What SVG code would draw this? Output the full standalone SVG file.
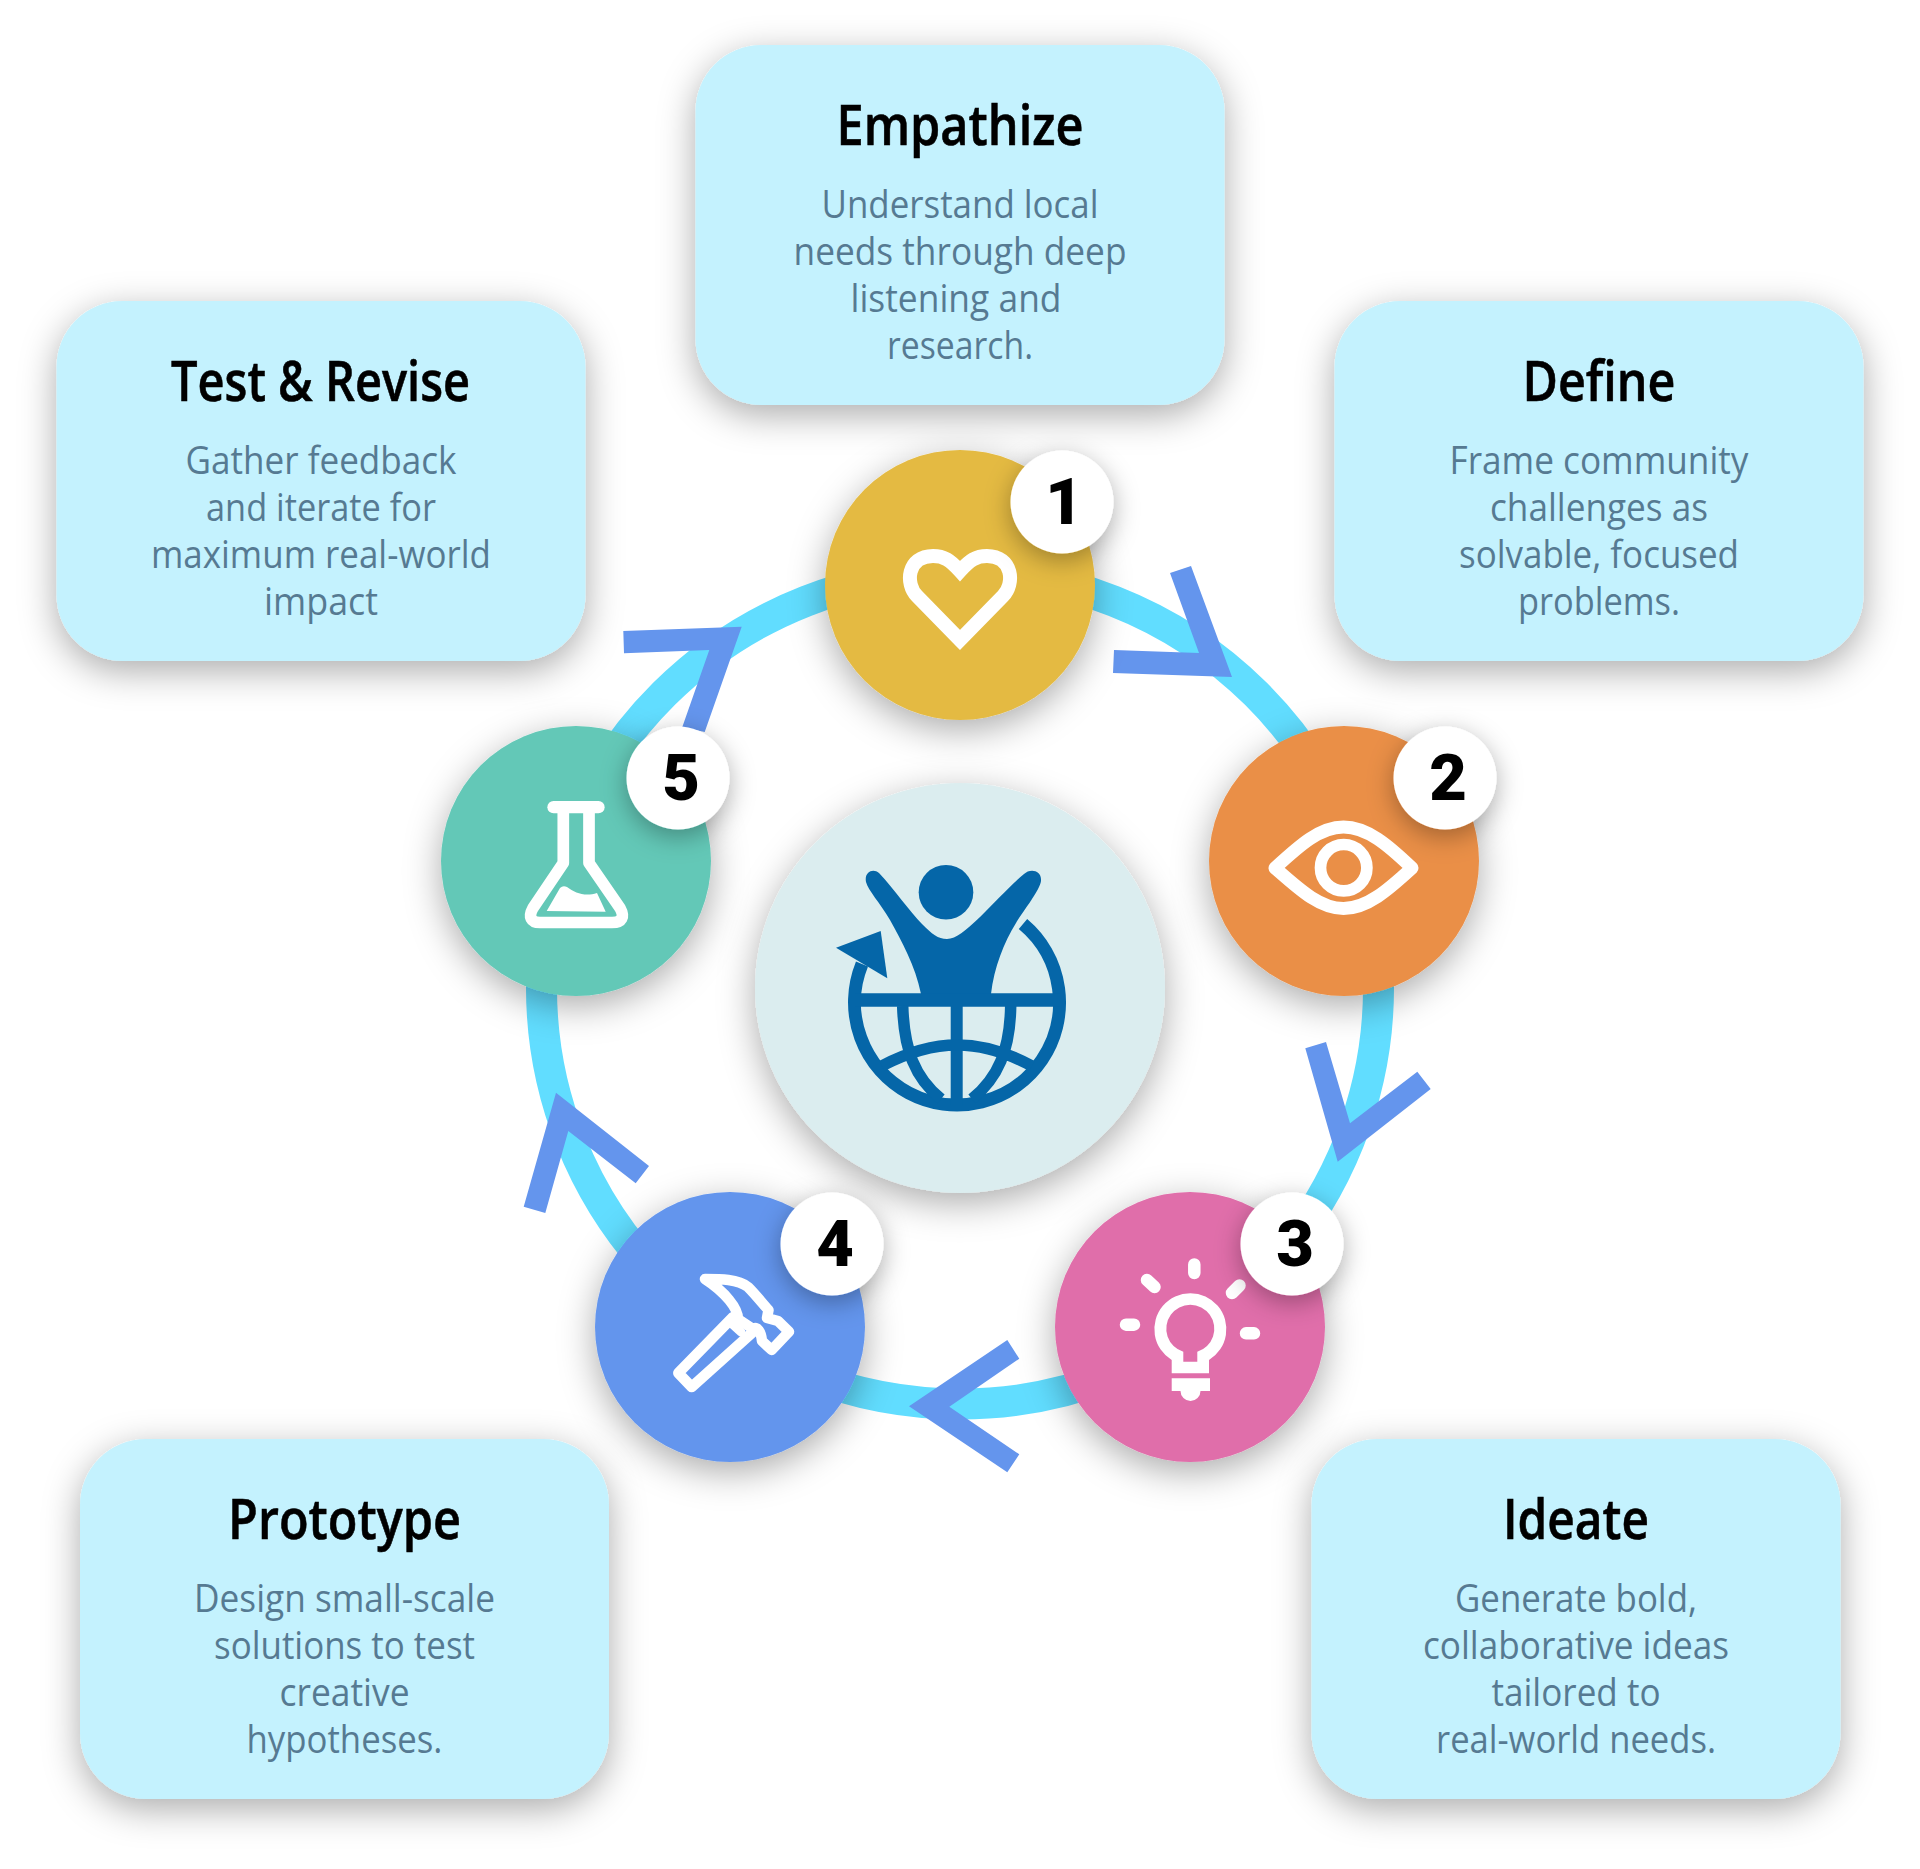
<svg xmlns="http://www.w3.org/2000/svg" width="1920" height="1869" viewBox="0 0 1920 1869">
<style>
text{font-family:"Open Sans","Noto Sans","Liberation Sans",sans-serif;text-anchor:middle}
.title{font-size:56px;font-weight:600;fill:#000;stroke:#000;stroke-width:.6px}
.body{font-size:38.500px;font-weight:400;fill:#567a92}
.num{font-family:Roboto,"Liberation Sans",sans-serif;font-size:65px;font-weight:900;fill:#000}
.card{fill:#c4f2fe;filter:url(#sh)}
.dot{filter:url(#sh)}
.badge{fill:#fff;filter:url(#sh2)}
.ic{fill:none;stroke:#fff;stroke-linejoin:round;stroke-linecap:round}
.arr{fill:#6495ed}
.gl{fill:none;stroke:#0566a8}
</style>
<defs>
<filter id="sh" x="-30%" y="-30%" width="160%" height="160%"><feDropShadow dx="0" dy="10" stdDeviation="18" flood-color="#000" flood-opacity=".33"/></filter>
<filter id="sh2" x="-60%" y="-60%" width="220%" height="220%"><feDropShadow dx="0" dy="7" stdDeviation="13" flood-color="#000" flood-opacity=".32"/></filter>
</defs>
<rect width="1920" height="1869" fill="#fff"/>

<g id="card-empathize">
<rect class="card" x="695.500" y="45" width="529" height="360" rx="66"/>
<text class="title" x="960" y="145" textLength="247" lengthAdjust="spacingAndGlyphs">Empathize</text>
<text class="body" x="960" y="218" textLength="277" lengthAdjust="spacingAndGlyphs">Understand local</text>
<text class="body" x="960" y="265" textLength="333" lengthAdjust="spacingAndGlyphs">needs through deep</text>
<text class="body" x="956" y="312" textLength="211" lengthAdjust="spacingAndGlyphs">listening and</text>
<text class="body" x="960" y="359" textLength="146" lengthAdjust="spacingAndGlyphs">research.</text>
</g>
<g id="card-define">
<rect class="card" x="1334.500" y="301" width="529" height="360" rx="66"/>
<text class="title" x="1599" y="401" textLength="153" lengthAdjust="spacingAndGlyphs">Define</text>
<text class="body" x="1599" y="474" textLength="299" lengthAdjust="spacingAndGlyphs">Frame community</text>
<text class="body" x="1599" y="521" textLength="218" lengthAdjust="spacingAndGlyphs">challenges as</text>
<text class="body" x="1599" y="568" textLength="280" lengthAdjust="spacingAndGlyphs">solvable, focused</text>
<text class="body" x="1599" y="615" textLength="162" lengthAdjust="spacingAndGlyphs">problems.</text>
</g>
<g id="card-ideate">
<rect class="card" x="1311.500" y="1439" width="529" height="360" rx="66"/>
<text class="title" x="1576" y="1539" textLength="146" lengthAdjust="spacingAndGlyphs">Ideate</text>
<text class="body" x="1576" y="1612" textLength="242" lengthAdjust="spacingAndGlyphs">Generate bold,</text>
<text class="body" x="1576" y="1659" textLength="306" lengthAdjust="spacingAndGlyphs">collaborative ideas</text>
<text class="body" x="1576" y="1706" textLength="169" lengthAdjust="spacingAndGlyphs">tailored to</text>
<text class="body" x="1576" y="1753" textLength="280" lengthAdjust="spacingAndGlyphs">real-world needs.</text>
</g>
<g id="card-prototype">
<rect class="card" x="80" y="1439" width="529" height="360" rx="66"/>
<text class="title" x="344.500" y="1539" textLength="233" lengthAdjust="spacingAndGlyphs">Prototype</text>
<text class="body" x="344.500" y="1612" textLength="301" lengthAdjust="spacingAndGlyphs">Design small-scale</text>
<text class="body" x="344.500" y="1659" textLength="261" lengthAdjust="spacingAndGlyphs">solutions to test</text>
<text class="body" x="344.500" y="1706" textLength="130" lengthAdjust="spacingAndGlyphs">creative</text>
<text class="body" x="344.500" y="1753" textLength="196" lengthAdjust="spacingAndGlyphs">hypotheses.</text>
</g>
<g id="card-test">
<rect class="card" x="56.500" y="301" width="529" height="360" rx="66"/>
<text class="title" x="320.500" y="401" textLength="299" lengthAdjust="spacingAndGlyphs">Test &amp; Revise</text>
<text class="body" x="321" y="474" textLength="271" lengthAdjust="spacingAndGlyphs">Gather feedback</text>
<text class="body" x="321" y="521" textLength="230" lengthAdjust="spacingAndGlyphs">and iterate for</text>
<text class="body" x="321" y="568" textLength="340" lengthAdjust="spacingAndGlyphs">maximum real-world</text>
<text class="body" x="321" y="615" textLength="114" lengthAdjust="spacingAndGlyphs">impact</text>
</g>

<g id="connectors">
<ellipse cx="960" cy="988" rx="418.500" ry="416" fill="none" stroke="#61ddff" stroke-width="31"/>
<polygon class="arr" points="1170,573 1191,566 1232,677 1113,673 1114,650 1199,653"/>
<polygon class="arr" points="1305.300,1048.300 1326,1042 1350,1123.300 1417.300,1071.700 1430.700,1089 1337.700,1161.700"/>
<polygon class="arr" points="1007.300,1340 1019.300,1358.700 949.300,1406.700 1019.300,1454.300 1007.300,1472.300 909,1406.300"/>
<polygon class="arr" points="556,1092.700 649,1166 635.700,1183.300 568.300,1131 545.300,1213 523.700,1206.700"/>
<polygon class="arr" points="623.300,631 741.700,626.700 704.700,732 682.300,727 709.300,650 624,653.300"/>
</g>

<g id="center">
<circle class="dot" cx="960" cy="988" r="205" fill="#dbedef"/>
<circle cx="946" cy="892.300" r="27.300" fill="#0566a8"/>
<path fill="#0566a8" d="M866 882C864 872 873 868 879 873C895 890 910 912 922 924C932 934 938 939 947 939C956 939 966 930 980 917C995 902 1012 884 1024 874C1030 868 1042 870 1041 881C1040 890 1024 910 1016 923C1004 942 994 968 991 994H921C915 965 902 942 890 920C880 903 868 890 866 882Z"/>
<path class="gl" stroke-width="13" d="M1023 924A102.500 102.500 0 1 1 862 964"/>
<polygon fill="#0566a8" points="836,947.700 880.700,931 887.300,978.300"/>
<path class="gl" stroke-width="13.500" d="M855 1000H1060"/>
<path class="gl" stroke-width="12" d="M956.700 1000V1105"/>
<path class="gl" stroke-width="11.500" d="M902.700 1006C904 1050 915 1078 941 1099M1010.700 1006C1010 1050 998 1078 972 1099M881.700 1066C935 1038 980 1038 1032 1066"/>
</g>

<g id="node-1">
<circle class="dot" cx="960" cy="585" r="135" fill="#e4ba42"/>
<path class="ic" stroke-width="14" style="stroke-linejoin:miter" d="M960 640L917 596C905 584 907 556 933 556C944 556 950 560 960 571C970 560 976 556 987 556C1013 556 1015 584 1003 596Z"/>
<circle class="badge" cx="1062" cy="502" r="51.500"/>
<text class="num" x="1064" y="524">1</text>
</g>
<g id="node-2">
<circle class="dot" cx="1344" cy="861" r="135" fill="#ea8f47"/>
<path class="ic" stroke-width="13" d="M1275 868C1300 845 1320 827 1343.500 827C1367 827 1388 845 1412 868C1388 890 1367 908.500 1343.500 908.500C1320 908.500 1300 890 1275 868Z"/>
<circle class="ic" cx="1343.700" cy="867.700" r="23.200" stroke-width="11.700"/>
<circle class="badge" cx="1445" cy="778" r="51.500"/>
<text class="num" x="1448" y="800">2</text>
</g>
<g id="node-3">
<circle class="dot" cx="1190" cy="1327" r="135" fill="#e06eaa"/>
<path fill="#fff" fill-rule="evenodd" d="M1171.700 1373.300H1209V1360A36 36 0 1 0 1171.700 1360ZM1183.300 1361.700H1197.300V1351.700A24 24 0 1 0 1183.300 1351.700Z"/>
<path fill="#fff" d="M1171.700 1378.300H1210V1391H1200.500A10 10 0 0 1 1180.500 1391H1171.700Z"/>
<path class="ic" stroke-width="12.500" d="M1194.300 1264.500V1273M1147 1280L1154.500 1287M1239.500 1285.500L1232 1293M1126 1324.700H1134M1246 1333.300H1254"/>
<circle class="badge" cx="1292" cy="1244" r="51.500"/>
<text class="num" x="1295" y="1266">3</text>
</g>
<g id="node-4">
<circle class="dot" cx="730" cy="1327" r="135" fill="#6495ed"/>
<path class="ic" stroke-width="10.500" d="M754 1331L691.700 1387L678.300 1373L733 1317"/>
<path class="ic" stroke-width="10.500" d="M705 1279C720 1279 738 1279 748 1287C756 1295 762 1303 768.500 1310L767 1318L778 1321L789 1331.700L771.700 1350L762 1341C761 1331 757 1326 753 1329L738 1319C738 1308 725 1292 705 1279Z"/>
<path class="ic" stroke-width="9" d="M730 1322L741 1332"/>
<circle class="badge" cx="832" cy="1244" r="51.500"/>
<text class="num" x="835" y="1266">4</text>
</g>
<g id="node-5">
<circle class="dot" cx="576" cy="861" r="135" fill="#64c8b7"/>
<path class="ic" stroke-width="12.300" d="M553.500 807.200H598.500"/>
<path class="ic" stroke-width="11.700" d="M563.300 810V863L533 908C528 917 531 922.500 540 922.500H612C622 922.500 625 917 620 908L589 863V810"/>
<path fill="#fff" d="M546.700 911L560 888Q563 885 567 887C575 893 585 897 597 893L605.700 911.700Z"/>
<circle class="badge" cx="678" cy="778" r="51.500"/>
<text class="num" x="681" y="800">5</text>
</g>
</svg>
